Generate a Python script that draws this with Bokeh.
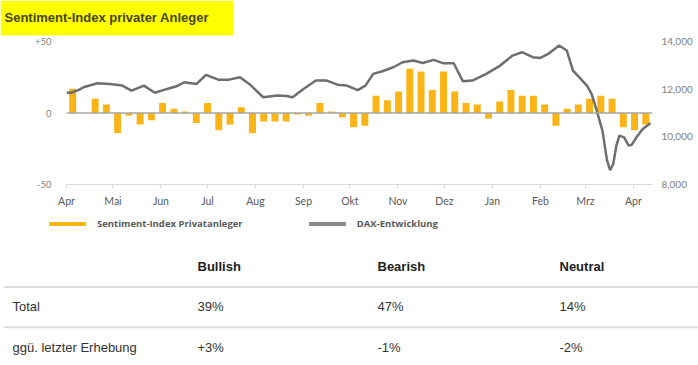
import pandas as pd
from datetime import datetime
from bokeh.plotting import figure
from bokeh.models import (Range1d, LinearAxis, FixedTicker, Span, Legend, LegendItem,
                          NumeralTickFormatter, ColumnDataSource)
from bokeh.layouts import column
from bokeh.embed import file_html
from bokeh.resources import INLINE
from bokeh.core.properties import value

# ---------------- data ----------------
title_text = "Sentiment-Index privater Anleger"

bar_first = "2019-04-05"
bar_last = "2020-04-09"
sentiment = [17, 0, 10, 6, -14, -2, -8, -5, 7, 3, 1, -7, 7, -12, -8, 4, -14, -6, -6, -6,
             -1, -2, 7, 1, -3, -10, -9, 12, 9, 15, 31, 29, 16, 29, 15, 7, 6, -4, 8, 16,
             12, 12, 6, -9, 3, 6, 10, 12, 10, -10, -12, -8]

dax_dates = ["2019-04-01", "2019-04-04", "2019-04-09", "2019-04-12", "2019-04-21", "2019-04-29",
             "2019-05-07", "2019-05-13", "2019-05-21", "2019-05-28", "2019-06-05", "2019-06-11",
             "2019-06-16", "2019-06-24", "2019-06-30", "2019-07-08", "2019-07-15", "2019-07-22",
             "2019-07-28", "2019-08-06", "2019-08-15", "2019-08-21", "2019-08-25", "2019-09-01",
             "2019-09-09", "2019-09-16", "2019-09-23", "2019-09-29", "2019-10-06", "2019-10-11",
             "2019-10-16", "2019-10-22", "2019-10-29", "2019-11-04", "2019-11-11", "2019-11-17",
             "2019-11-24", "2019-11-30", "2019-12-07", "2019-12-10", "2019-12-13", "2019-12-19",
             "2019-12-28", "2020-01-06", "2020-01-14", "2020-01-20", "2020-01-27", "2020-02-01",
             "2020-02-06", "2020-02-13", "2020-02-18", "2020-02-22", "2020-02-27", "2020-03-02",
             "2020-03-05", "2020-03-08", "2020-03-12", "2020-03-15", "2020-03-17", "2020-03-19",
             "2020-03-21", "2020-03-23", "2020-03-26", "2020-03-29", "2020-03-31", "2020-04-03",
             "2020-04-07", "2020-04-12"]
dax_values = [11850, 11850, 11970, 12080, 12250, 12220,
              12150, 11940, 12150, 11850, 12010, 12120,
              12290, 12220, 12600, 12400, 12400, 12500,
              12220, 11660, 11730, 11715, 11660, 12010,
              12360, 12360, 12190, 12150, 11960, 12150,
              12640, 12750, 12920, 13130, 13200, 13100,
              13230, 13090, 13090, 12700, 12330, 12360,
              12640, 12990, 13410, 13550, 13340, 13310,
              13480, 13830, 13620, 12780, 12430, 12150,
              11800, 11170, 10260, 9000, 8600, 8860,
              9630, 10050, 9980, 9630, 9670, 9980,
              10330, 10570]

month_starts = ["2019-04-01", "2019-05-01", "2019-06-01", "2019-07-01", "2019-08-01",
                "2019-09-01", "2019-10-01", "2019-11-01", "2019-12-01", "2020-01-01",
                "2020-02-01", "2020-03-01", "2020-04-01"]
month_labels = ["Apr", "Mai", "Jun", "Jul", "Aug", "Sep", "Okt", "Nov", "Dez", "Jan",
                "Feb", "Mrz", "Apr"]

left_ticks = [-50, 0, 50]
left_tick_labels = ["-50", "0", "+50"]
right_ticks = [8000, 10000, 12000, 14000]

legend_labels = ["Sentiment-Index Privatanleger", "DAX-Entwicklung"]

table_columns = ["Bullish", "Bearish", "Neutral"]
table_rows = ["Total", "ggü. letzter Erhebung"]
total_values = ["39%", "47%", "14%"]
change_values = ["+3%", "-1%", "-2%"]

# ---------------- styling ----------------
W = 698
BAR_COLOR = "#FBB416"
LINE_COLOR = "#6e6e6e"
LEGEND_GRAY = "#8a8a8a"
AX_FONT = "Lato"
LEG_FONT = "Open Sans"
TBL_FONT = "Liberation Sans"

# ---------------- title ----------------
t = figure(width=W, height=36, x_range=Range1d(0, W), y_range=Range1d(36, 0),
           output_backend="svg", toolbar_location=None, min_border=0,
           x_axis_location=None, y_axis_location=None, frame_align=False)
t.quad(left=[0], right=[233], top=[0], bottom=[35], fill_color="#FFFF00", line_color=None)
t.text(x=[4], y=[17], text=[title_text], text_font=value(TBL_FONT), text_font_style="bold",
       text_font_size="13px", text_baseline="middle", text_color="#44440f")
t.grid.visible = False
t.outline_line_color = None

# ---------------- chart ----------------
bar_dates = pd.date_range(bar_first, bar_last, periods=len(sentiment))
bars_src = ColumnDataSource(dict(x=bar_dates, top=sentiment))
dax_src = ColumnDataSource(dict(x=pd.to_datetime(dax_dates), y=dax_values))

p = figure(width=W, height=176, x_axis_type="datetime",
           x_range=Range1d(datetime(2019, 4, 1), datetime(2020, 4, 13, 8)),
           y_range=Range1d(-50, 50), output_backend="svg", toolbar_location=None,
           min_border_left=66, min_border_right=46, min_border_top=5, min_border_bottom=28,
           frame_align=False)
p.extra_y_ranges = {"dax": Range1d(8000, 14000)}
p.grid.visible = False
p.outline_line_color = None

bar_width_ms = 4.5 * 86400000
bars = p.vbar(x="x", top="top", width=bar_width_ms, source=bars_src,
              fill_color=BAR_COLOR, line_color=None)
p.add_layout(Span(location=0, dimension="width", line_color="#a6a6a6", line_width=1.5))
line = p.line(x="x", y="y", source=dax_src, y_range_name="dax",
              line_color=LINE_COLOR, line_width=2.5)

# bottom axis
month_ms = [int(v) for v in (pd.to_datetime(month_starts).astype("int64") // 10**6)]
xa = p.xaxis[0]
xa.ticker = FixedTicker(ticks=month_ms)
xa.major_label_overrides = {m: lab for m, lab in zip(month_ms, month_labels)}
xa.axis_line_color = "#d9d9d9"
xa.major_tick_line_color = "#d9d9d9"
xa.major_tick_out = 4
xa.major_tick_in = 0
xa.minor_tick_line_color = None
xa.major_label_standoff = 6
xa.major_label_text_font = AX_FONT
xa.major_label_text_font_size = "10.5px"
xa.major_label_text_color = "#595959"

# left axis
ya = p.yaxis[0]
ya.ticker = FixedTicker(ticks=left_ticks)
ya.major_label_overrides = {k: lab for k, lab in zip(left_ticks, left_tick_labels)}
ya.axis_line_color = None
ya.major_tick_line_color = None
ya.minor_tick_line_color = None
ya.major_label_standoff = 9
ya.major_label_text_font = AX_FONT
ya.major_label_text_font_size = "9.5px"
ya.major_label_text_color = "#808080"

# right axis
ra = LinearAxis(y_range_name="dax", ticker=FixedTicker(ticks=right_ticks),
                formatter=NumeralTickFormatter(format="0,0"))
ra.axis_line_color = None
ra.major_tick_line_color = None
ra.minor_tick_line_color = None
ra.major_label_standoff = 3
ra.major_label_text_font = AX_FONT
ra.major_label_text_font_size = "10px"
ra.major_label_text_color = "#808080"
p.add_layout(ra, "right")

# ---------------- legend + table ----------------
TB_TOP, TB_BOTTOM = 212, 365
tb = figure(width=W, height=TB_BOTTOM - TB_TOP, x_range=Range1d(0, W),
            y_range=Range1d(TB_BOTTOM, TB_TOP), output_backend="svg",
            toolbar_location=None, min_border=0, x_axis_location=None,
            y_axis_location=None, frame_align=False)
tb.grid.visible = False
tb.outline_line_color = None

# zero-size stand-ins that carry the legend swatch colours
sw_bar = tb.vbar(x=[0], top=[0], bottom=[0], width=0, fill_color=BAR_COLOR, line_color=None)
sw_dax = tb.vbar(x=[0], top=[0], bottom=[0], width=0, fill_color=LEGEND_GRAY, line_color=None)
legend = Legend(items=[LegendItem(label=legend_labels[0], renderers=[sw_bar]),
                       LegendItem(label=legend_labels[1], renderers=[sw_dax])],
                orientation="horizontal", location=(44, TB_BOTTOM - TB_TOP - 18),
                glyph_width=46, glyph_height=5, label_standoff=7, spacing=61,
                padding=0, margin=0, border_line_color=None, background_fill_alpha=0,
                label_text_font=LEG_FONT, label_text_font_style="bold",
                label_text_font_size="9.5px", label_text_color="#595959", label_height=12)
tb.add_layout(legend)

col_x = [197, 377, 559]
header_y = 266
row_y = [306, 346.5]
sep_y = [(header_y + row_y[0]) / 2 + 0.5, (row_y[0] + row_y[1]) / 2 + 0.5]
tb.segment(x0=[3, 3], x1=[W, W], y0=sep_y, y1=sep_y, line_color="#dddddd", line_width=2)

tb.text(x=col_x, y=[header_y] * 3, text=table_columns, text_font=value(TBL_FONT),
        text_font_style="bold", text_font_size="13px", text_baseline="middle",
        text_color="#222222")
tb.text(x=[12, 12], y=row_y, text=table_rows, text_font=value(TBL_FONT),
        text_font_size="13px", text_baseline="middle", text_color="#333333")
tb.text(x=col_x, y=[row_y[0]] * 3, text=total_values, text_font=value(TBL_FONT),
        text_font_size="13px", text_baseline="middle", text_color="#333333")
tb.text(x=col_x, y=[row_y[1]] * 3, text=change_values, text_font=value(TBL_FONT),
        text_font_size="13px", text_baseline="middle", text_color="#333333")

layout = column(t, p, tb, spacing=0)
open("out.html", "w").write(file_html(layout, INLINE))
